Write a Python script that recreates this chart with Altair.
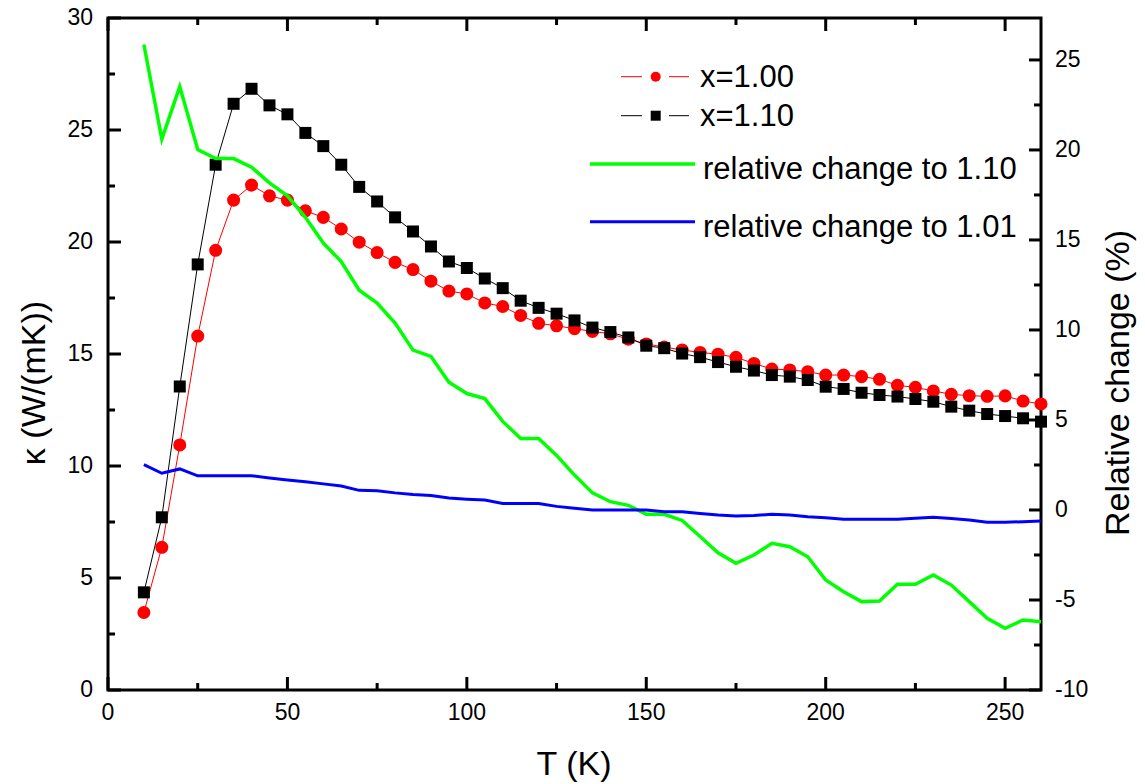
import altair as alt
import pandas as pd

# Temperature grid (K)
temperature = [10, 15, 20, 25, 30, 35, 40, 45, 50, 55, 60, 65, 70, 75, 80, 85, 90, 95,
               100, 105, 110, 115, 120, 125, 130, 135, 140, 145, 150, 155, 160, 165, 170,
               175, 180, 185, 190, 195, 200, 205, 210, 215, 220, 225, 230, 235, 240, 245,
               250, 255, 260]

# Thermal conductivity, W/(mK)
kappa_100 = [3.46, 6.37, 10.94, 15.8, 19.63, 21.87, 22.54, 22.06, 21.87, 21.39, 21.1, 20.58,
             19.99, 19.53, 19.09, 18.77, 18.25, 17.81, 17.68, 17.28, 17.12, 16.72, 16.37,
             16.26, 16.13, 16.01, 15.9, 15.66, 15.45, 15.31, 15.18, 15.07, 14.99, 14.85,
             14.58, 14.33, 14.29, 14.21, 14.06, 14.06, 13.99, 13.87, 13.6, 13.51, 13.35,
             13.2, 13.14, 13.11, 13.13, 12.9, 12.77]
kappa_110 = [4.36, 7.71, 13.55, 19.0, 23.45, 26.17, 26.84, 26.1, 25.7, 24.87, 24.28, 23.45,
             22.46, 21.81, 21.1, 20.47, 19.8, 19.13, 18.84, 18.37, 17.94, 17.38, 17.06,
             16.8, 16.5, 16.18, 15.98, 15.74, 15.37, 15.26, 15.02, 14.86, 14.64, 14.43,
             14.26, 14.06, 13.99, 13.84, 13.54, 13.44, 13.27, 13.17, 13.1, 12.99, 12.87,
             12.65, 12.47, 12.32, 12.23, 12.13, 11.98]

# Relative change (%)
rel_to_110 = [25.86, 20.6, 23.52, 20.02, 19.52, 19.52, 19.04, 18.17, 17.45, 16.26, 14.83,
              13.8, 12.21, 11.5, 10.38, 8.88, 8.53, 7.1, 6.47, 6.19, 4.92, 3.97, 3.97, 3.03,
              1.94, 0.95, 0.46, 0.26, -0.24, -0.24, -0.58, -1.47, -2.38, -2.96, -2.5, -1.85,
              -2.04, -2.6, -3.89, -4.54, -5.09, -5.06, -4.13, -4.13, -3.61, -4.17, -5.09,
              -6.02, -6.57, -6.11, -6.21]
rel_to_101 = [2.52, 2.04, 2.28, 1.9, 1.9, 1.9, 1.9, 1.78, 1.67, 1.57, 1.45, 1.33, 1.09, 1.07,
              0.95, 0.86, 0.8, 0.66, 0.6, 0.55, 0.36, 0.36, 0.36, 0.2, 0.1, 0.0, 0.0, 0.0,
              0.0, -0.1, -0.1, -0.2, -0.28, -0.33, -0.31, -0.24, -0.28, -0.37, -0.43, -0.52,
              -0.52, -0.52, -0.52, -0.46, -0.41, -0.47, -0.56, -0.68, -0.68, -0.65, -0.61]

# Tick positions
x_major = [0, 50, 100, 150, 200, 250]
x_minor = [25, 75, 125, 175, 225]
left_major = [0, 5, 10, 15, 20, 25, 30]
left_minor = [2.5, 7.5, 12.5, 17.5, 22.5, 27.5]
right_major = [-10, -5, 0, 5, 10, 15, 20, 25]
right_minor = [-7.5, -2.5, 2.5, 7.5, 12.5, 17.5, 22.5]

W, H = 933, 672
FONT = "Liberation Sans"
MAJOR, MINOR = 13, 7
LABEL_SIZE, TITLE_SIZE = 23, 34

df = pd.DataFrame({
    "T": temperature,
    "k100": kappa_100,
    "k110": kappa_110,
    "r110": rel_to_110,
    "r101": rel_to_101,
})

x_scale = alt.Scale(domain=[0, 260], nice=False, zero=False)
yl_scale = alt.Scale(domain=[0, 30], nice=False, zero=False)
yr_scale = alt.Scale(domain=[-10, 27.33], nice=False, zero=False)

# The frame is drawn Origin-style: inward ticks on all four sides, so the
# axes are built from rules, symbols and text marks on the shared scales.
X = alt.X("T:Q", scale=x_scale, axis=None)

# vertical stroke symbol; a custom path spans sqrt(size) pixels
VBAR = "M0,-1L0,1"


def YL(field):
    return alt.Y(field, scale=yl_scale, axis=None)


def YR(field):
    return alt.Y(field, scale=yr_scale, axis=None)


def x_ticks(values, length):
    d = alt.Chart(pd.DataFrame({"T": values}))
    style = dict(shape=VBAR, size=length * length, filled=False, color="black",
                 strokeWidth=3, opacity=1, strokeCap="butt")
    bottom = d.mark_point(**style).encode(x=X, y=alt.value(H - length / 2))
    top = d.mark_point(**style).encode(x=X, y=alt.value(length / 2))
    return [bottom, top]


def y_ticks(values, length, y_enc, side):
    d = alt.Chart(pd.DataFrame({"v": values}))
    x0 = 0 if side == "left" else W
    x1 = length if side == "left" else W - length
    return d.mark_rule(color="black", strokeWidth=3).encode(
        y=y_enc("v:Q"), x=alt.value(x0), x2=alt.value(x1))


def tick_labels_x(values):
    return alt.Chart(pd.DataFrame({"T": values})).transform_calculate(
        lbl="toString(datum.T)"
    ).mark_text(font=FONT, fontSize=LABEL_SIZE, color="black", align="center",
                baseline="top").encode(x=X, y=alt.value(H + 12), text="lbl:N")


def tick_labels_y(values, y_enc, side):
    pad = 15 if side == "left" else 14
    return alt.Chart(pd.DataFrame({"v": values})).transform_calculate(
        lbl="toString(datum.v)"
    ).mark_text(font=FONT, fontSize=LABEL_SIZE, color="black",
                align="right" if side == "left" else "left", baseline="middle").encode(
        y=y_enc("v:Q"), x=alt.value(-pad if side == "left" else W + pad), text="lbl:N")


one = alt.Chart(pd.DataFrame({"k": [0]}))


def text_at(x, y, text, size, angle=0, align="left"):
    return one.mark_text(align=align, baseline="alphabetic", font=FONT, fontSize=size,
                         angle=angle, color="black").encode(
        x=alt.value(x), y=alt.value(y), text=alt.value(text))


def seg(x0, x1, y, color, width):
    return one.mark_rule(color=color, strokeWidth=width).encode(
        x=alt.value(x0), x2=alt.value(x1), y=alt.value(y))


base = alt.Chart(df)

# Conductivity curves (left axis) with the bottom/top/left frame ticks
left_group = alt.layer(
    *x_ticks(x_major, MAJOR), *x_ticks(x_minor, MINOR),
    y_ticks(left_major, MAJOR, YL, "left"),
    y_ticks(left_minor, MINOR, YL, "left"),
    tick_labels_x(x_major),
    tick_labels_y(left_major, YL, "left"),
    base.mark_line(color="red", strokeWidth=1).encode(x=X, y=YL("k100:Q")),
    base.mark_line(color="black", strokeWidth=1).encode(x=X, y=YL("k110:Q")),
    base.mark_point(shape="circle", filled=True, size=170, color="red",
                    opacity=1).encode(x=X, y=YL("k100:Q")),
    base.mark_point(shape="square", filled=True, size=144, color="black",
                    opacity=1).encode(x=X, y=YL("k110:Q")),
)

# Relative change curves (right axis) with the right frame ticks
right_group = alt.layer(
    y_ticks(right_major, MAJOR - 1, YR, "right"),
    y_ticks(right_minor, MINOR, YR, "right"),
    tick_labels_y(right_major, YR, "right"),
    base.mark_line(color="#00ff00", strokeWidth=3.5).encode(x=X, y=YR("r110:Q")),
    base.mark_line(color="#0000ff", strokeWidth=3).encode(x=X, y=YR("r101:Q")),
)

# Axis titles and legend, placed in pixel space
annotations = alt.layer(
    text_at(466, 757, "T (K)", TITLE_SIZE, align="center"),
    text_at(-63, 365, "κ (W/(mK))", TITLE_SIZE, angle=270, align="center"),
    text_at(W + 88, 365, "Relative change (%)", TITLE_SIZE, angle=270, align="center"),
    seg(513, 534, 58.7, "red", 1), seg(561, 581, 58.7, "red", 1),
    one.mark_point(shape="circle", filled=True, size=100, color="red", opacity=1).encode(
        x=alt.value(547.7), y=alt.value(58.7)),
    text_at(592, 69.3, "x=1.00", 31),
    seg(513, 534, 97.7, "black", 1), seg(561, 581, 97.7, "black", 1),
    one.mark_point(shape="square", filled=True, size=100, color="black", opacity=1).encode(
        x=alt.value(547.7), y=alt.value(97.7)),
    text_at(592, 108, "x=1.10", 31),
    seg(482, 587, 146, "#00ff00", 3.5),
    text_at(595, 161.3, "relative change to 1.10", 31),
    seg(482, 587, 203.7, "#0000ff", 3),
    text_at(595, 218.7, "relative change to 1.01", 31),
)

chart = alt.layer(left_group, right_group, annotations).resolve_scale(
    y="independent"
).properties(
    width=W, height=H,
    padding={"left": 108, "top": 18, "right": 104, "bottom": 94},
    autosize=alt.AutoSizeParams(type="none"),
    background="white",
).configure_view(stroke="black", strokeWidth=3)

chart.save("out.html", embed_options={"renderer": "svg", "actions": False})
